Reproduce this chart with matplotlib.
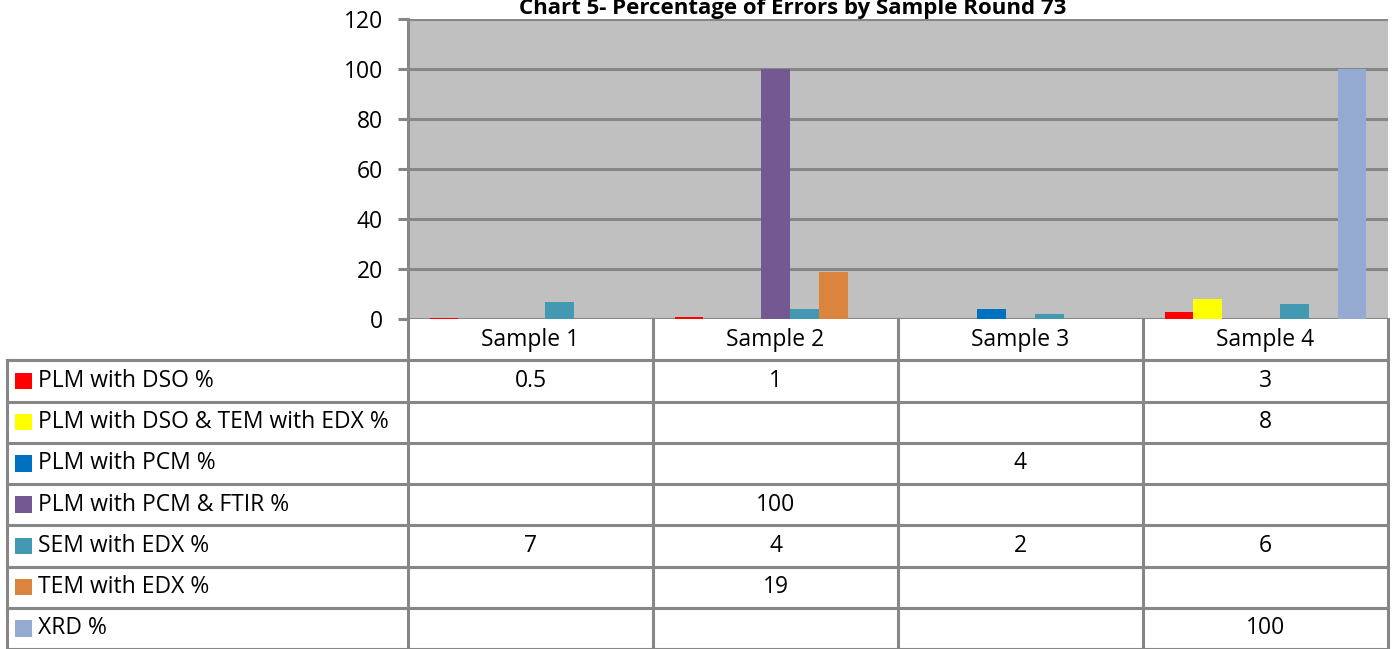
import numpy as np
import matplotlib
matplotlib.use("Agg")
import matplotlib.pyplot as plt

samples = ["Sample 1", "Sample 2", "Sample 3", "Sample 4"]
series_names = [
    "PLM with DSO %",
    "PLM with DSO & TEM with EDX %",
    "PLM with PCM %",
    "PLM with PCM & FTIR %",
    "SEM with EDX %",
    "TEM with EDX %",
    "XRD %",
]
series_colors = ["#FF0000", "#FFFF00", "#0070C0", "#735891", "#4399B1", "#DB843D", "#95AAD0"]

# None = blank cell in the data table
plm_dso = [0.5, 1, None, 3]
plm_dso_tem = [None, None, None, 8]
plm_pcm = [None, None, 4, None]
plm_pcm_ftir = [None, 100, None, None]
sem_edx = [7, 4, 2, 6]
tem_edx = [None, 19, None, None]
xrd = [None, None, None, 100]
series_values = [plm_dso, plm_dso_tem, plm_pcm, plm_pcm_ftir, sem_edx, tem_edx, xrd]

yticks = [0, 20, 40, 60, 80, 100, 120]

W, H = 1392, 649
GRID = "#878787"
FS = 16.5
plt.rcParams["font.family"] = ["Open Sans", "DejaVu Sans"]

fig = plt.figure(figsize=(W / 100, H / 100), dpi=100)

# ---- bar chart ----
px0, px1, py0, py1 = 408, 1388, 19, 319
ax = fig.add_axes([px0 / W, 1 - py1 / H, (px1 - px0) / W, (py1 - py0) / H])
ax.set_facecolor("#C0C0C0")
ax.set_axisbelow(True)
n = len(series_names)
bw = 1 / (n + 1.5)
x = np.arange(len(samples))
for i, (vals, col) in enumerate(zip(series_values, series_colors)):
    xs = [xi + (i - (n - 1) / 2) * bw for xi, v in zip(x, vals) if v is not None]
    hs = [v for v in vals if v is not None]
    ax.bar(xs, hs, width=bw, color=col, zorder=3)
ax.set_xlim(-0.5, len(samples) - 0.5)
ax.set_ylim(0, 120)
ax.set_yticks(yticks)
ax.set_xticks([])
ax.grid(axis="y", color=GRID, linewidth=2.2)
for s in ["top", "right", "bottom"]:
    ax.spines[s].set_visible(False)
ax.spines["left"].set_color(GRID)
ax.spines["left"].set_linewidth(2.2)
ax.tick_params(axis="y", length=7, width=2.2, color=GRID, pad=11, labelsize=FS)

fig.text(793 / W, 1 - 14 / H, "Chart 5- Percentage of Errors by Sample Round 73",
         ha="center", va="baseline", fontsize=16, fontweight="bold")

# ---- data table ----
tx0, tx1, ty0, ty1 = 7, 1388, 319, 649
tax = fig.add_axes([tx0 / W, 1 - ty1 / H, (tx1 - tx0) / W, (ty1 - ty0) / H])
col_w = (px1 - px0) / len(samples)
label_w = (px0 - tx0) / col_w
nrows = n + 1
tax.set_xlim(-label_w, len(samples))
tax.set_ylim(nrows, 0)
tax.axis("off")

lw = 2.2
# horizontal lines (the top one is the 0 gridline of the chart)
for r in range(1, nrows + 1):
    tax.plot([-label_w, len(samples)], [r, r], color=GRID, lw=lw, clip_on=False)
# vertical lines
for c in range(len(samples) + 1):
    tax.plot([c, c], [0, nrows], color=GRID, lw=lw, clip_on=False)
tax.plot([-label_w, -label_w], [1, nrows], color=GRID, lw=lw, clip_on=False)

for j, s in enumerate(samples):
    tax.text(j + 0.5, 0.5, s, ha="center", va="center", fontsize=FS)

key = 17 / col_w
for i, (name, col, vals) in enumerate(zip(series_names, series_colors, series_values)):
    r = i + 1
    tax.add_patch(plt.Rectangle((-label_w + 8 / col_w, r + 0.5 - 0.2), key, 0.4,
                                facecolor=col, edgecolor="none", clip_on=False))
    tax.text(-label_w + 31 / col_w, r + 0.5, name, ha="left", va="center", fontsize=FS)
    for j, v in enumerate(vals):
        if v is not None:
            tax.text(j + 0.5, r + 0.5, f"{v:g}", ha="center", va="center", fontsize=FS)

fig.savefig("out.png", dpi=100)
